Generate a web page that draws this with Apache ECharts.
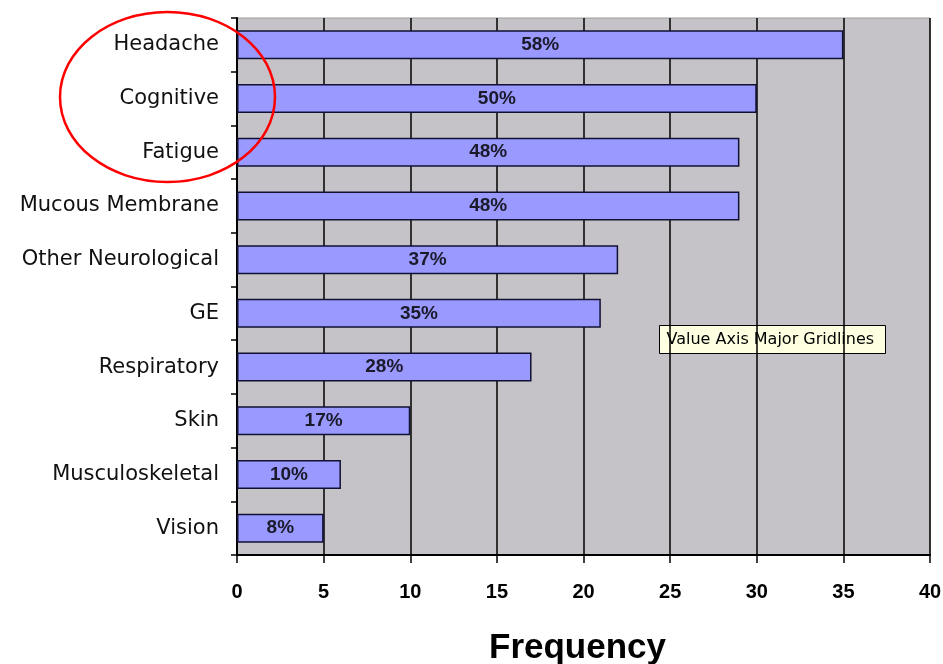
<!DOCTYPE html>
<html>
<head>
<meta charset="utf-8">
<script src="https://cdn.jsdelivr.net/npm/echarts@6/dist/echarts.min.js"></script>
<style>html,body{margin:0;padding:0;background:#fff}#c{width:943px;height:664px}</style>
</head>
<body>
<div id="c"></div>
<script>
const categories = ["Headache","Cognitive","Fatigue","Mucous Membrane","Other Neurological","GE","Respiratory","Skin","Musculoskeletal","Vision"];
const frequency = [35,30,29,29,22,21,17,10,6,5];
const percentLabels = ["58%","50%","48%","48%","37%","35%","28%","17%","10%","8%"];
const xTicks = {min:0, max:40, interval:5};

const chart = echarts.init(document.getElementById('c'));
chart.setOption({
  animation:false,
  backgroundColor:'#ffffff',
  grid:{left:237,right:13,top:18,bottom:109,outerBoundsMode:'none',containLabel:false,show:true,backgroundColor:'#c5c3c7',borderColor:'#9a9a9a',borderWidth:1},
  xAxis:{type:'value',min:xTicks.min,max:xTicks.max,interval:xTicks.interval,
    name:'Frequency',nameLocation:'middle',nameGap:76,
    nameTextStyle:{fontFamily:'Liberation Sans, Arial',fontWeight:'bold',fontSize:35,color:'#000',padding:[0,12,0,0]},
    axisLine:{show:true,lineStyle:{color:'#000',width:2}},
    axisTick:{show:true,length:8,lineStyle:{color:'#000',width:1.5}},
    axisLabel:{margin:27,fontFamily:'Liberation Sans, Arial',fontWeight:'bold',fontSize:20,color:'#000'},
    splitLine:{show:true,lineStyle:{color:'#000',width:1.5}}
  },
  yAxis:{type:'category',data:categories,inverse:true,
    axisLine:{show:true,lineStyle:{color:'#000',width:2}},
    axisTick:{show:true,length:6,lineStyle:{color:'#000',width:1.5}},
    axisLabel:{margin:18,fontFamily:'DejaVu Sans',fontSize:21,color:'#111'}
  },
  series:[{type:'bar',data:frequency,barWidth:29,
    itemStyle:{color:'#9999ff',borderColor:'#111133',borderWidth:1.5},
    label:{show:true,position:'inside',formatter:p=>percentLabels[p.dataIndex],
      fontFamily:'Liberation Sans, Arial',fontWeight:'bold',fontSize:19,color:'#1a1a2a'}
  }],
  graphic:[
    {type:'ellipse',shape:{cx:167.5,cy:97,rx:107.5,ry:85},style:{fill:'none',stroke:'#ff0000',lineWidth:2.5},z:100},
    {type:'group',left:659,top:325,z:100,children:[
      {type:'rect',shape:{x:0,y:0,width:226,height:28},style:{fill:'#ffffe1',stroke:'#000',lineWidth:1}},
      {type:'text',x:7,y:14,style:{text:'Value Axis Major Gridlines',fontFamily:'DejaVu Sans, Liberation Sans',fontSize:16,fill:'#000',verticalAlign:'middle'}}
    ]}
  ]
});
</script>
</body>
</html>
